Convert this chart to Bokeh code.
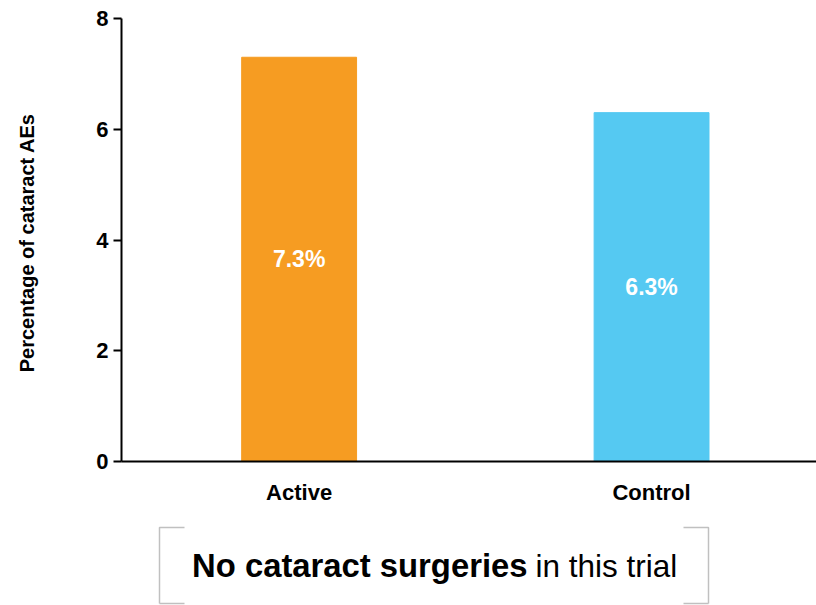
from bokeh.plotting import figure
from bokeh.models import Range1d, FixedTicker, ColumnDataSource
from bokeh.layouts import column
from bokeh.core.properties import value
from bokeh.embed import file_html
from bokeh.resources import INLINE

# Cataract adverse events by treatment arm
categories = ["Active", "Control"]
percentages = [7.3, 6.3]
bar_colors = ["#F69C22", "#55C9F2"]
y_ticks = [0, 2, 4, 6, 8]
note_bold = "No cataract surgeries"
note_regular = "in this trial"

FONT = "Liberation Sans"

xs = [i + 0.5 for i in range(len(categories))]
src = ColumnDataSource(dict(
    x=xs,
    top=percentages,
    mid=[v / 2 for v in percentages],
    label=[f"{v:.1f}%" for v in percentages],
    color=bar_colors,
))

p = figure(width=816, height=510, output_backend="svg", toolbar_location=None,
           x_range=Range1d(-0.004, 1.968), y_range=Range1d(0, 8),
           min_border_left=121, min_border_right=0, min_border_top=18,
           min_border_bottom=49)
p.frame_align = False
p.outline_line_color = None
p.xgrid.visible = False
p.ygrid.visible = False

p.vbar(x="x", top="top", width=0.326, color="color", source=src)
p.text(x="x", y="mid", text="label", source=src, text_color="white",
       text_font=value(FONT), text_font_style="bold", text_font_size="23px",
       text_align="center", text_baseline="middle")

# y axis
ya = p.yaxis[0]
ya.ticker = FixedTicker(ticks=y_ticks)
ya.axis_line_width = 2
ya.major_tick_line_width = 2
ya.major_tick_out = 8
ya.major_tick_in = 0
ya.minor_tick_out = 0
ya.minor_tick_in = 0
ya.major_label_standoff = 5
ya.major_label_text_font = FONT
ya.major_label_text_font_style = "bold"
ya.major_label_text_font_size = "22px"
ya.major_label_text_color = "black"
ya.axis_label = "Percentage of cataract  AEs"
ya.axis_label_text_font = FONT
ya.axis_label_text_font_style = "bold"
ya.axis_label_text_font_size = "20px"
ya.axis_label_text_color = "black"
ya.axis_label_standoff = 55

# x axis
xa = p.xaxis[0]
xa.ticker = FixedTicker(ticks=xs)
xa.major_label_overrides = {x: c for x, c in zip(xs, categories)}
xa.axis_line_width = 2
xa.major_tick_out = 0
xa.major_tick_in = 0
xa.minor_tick_out = 0
xa.minor_tick_in = 0
xa.major_label_standoff = 18
xa.major_label_text_font = FONT
xa.major_label_text_font_style = "bold"
xa.major_label_text_font_size = "22px"
xa.major_label_text_color = "black"

# note panel with bracket frame
n = figure(width=816, height=95, output_backend="svg", toolbar_location=None,
           x_range=Range1d(0, 816), y_range=Range1d(0, 95),
           min_border=0)
n.frame_align = False
n.axis.visible = False
n.grid.visible = False
n.outline_line_color = None

left, right, top, bottom, arm = 159, 708, 78, 2, 25
n.multi_line(
    xs=[[left + arm, left, left], [left, left + arm],
        [right - arm, right, right], [right, right - arm]],
    ys=[[top, top, bottom], [bottom, bottom],
        [top, top, bottom], [bottom, bottom]],
    line_color="#C0C0C0", line_width=1.5)

n.text(x=[527], y=[40], text=[note_bold], text_font=value(FONT),
       text_font_style="bold", text_font_size="32.8px", text_color="black",
       text_align="right", text_baseline="middle")
n.text(x=[535], y=[40], text=[note_regular], text_font=value(FONT),
       text_font_size="31.5px", text_color="black",
       text_align="left", text_baseline="middle")

layout = column(p, n, spacing=0)
open("out.html", "w").write(file_html(layout, INLINE))
